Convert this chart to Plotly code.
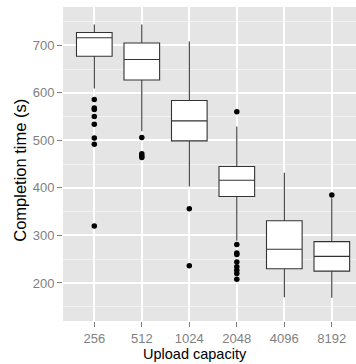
import plotly.graph_objects as go

categories = ["256", "512", "1024", "2048", "4096", "8192"]
q1 = [677, 627, 499, 382, 230, 225]
median = [716, 670, 541, 416, 271, 256]
q3 = [727, 705, 584, 445, 331, 287]
lower_whisker = [609, 519, 403, 289, 170, 169]
upper_whisker = [744, 744, 708, 529, 432, 378]

outlier_cat = (["256"] * 8 + ["512"] * 4 + ["1024"] * 2 + ["2048"] * 9 + ["8192"])
outlier_val = ([586, 568, 565, 550, 534, 505, 492, 320,
                506, 472, 467, 464,
                356, 236,
                560, 281, 263, 260, 244, 234, 227, 220, 208,
                385])

y_ticks = [200, 300, 400, 500, 600, 700]
x_title = "Upload capacity"
y_title = "Completion time (s)"

fig = go.Figure()
fig.add_trace(go.Box(
    x=categories, q1=q1, median=median, q3=q3,
    lowerfence=lower_whisker, upperfence=upper_whisker,
    fillcolor="white", line=dict(color="#333333", width=1.1),
    whiskerwidth=0, width=0.75, boxpoints=False, showlegend=False,
    hoverinfo="skip",
))
fig.add_trace(go.Scatter(
    x=outlier_cat, y=outlier_val, mode="markers",
    marker=dict(color="black", size=5.5), showlegend=False,
))

FONT = "Liberation Sans, Arial, sans-serif"
tickfont = dict(family=FONT, size=13, color="#7F7F7F")

fig.update_layout(
    width=356, height=364,
    margin=dict(l=63, r=0, t=7, b=43),
    paper_bgcolor="white", plot_bgcolor="#E5E5E5",
    xaxis=dict(
        type="category", categoryorder="array", categoryarray=categories,
        range=[-0.659, 5.509], showgrid=True, gridcolor="white", gridwidth=1.5,
        zeroline=False, showline=False,
        ticks="outside", ticklen=5, tickcolor="#7F7F7F", tickwidth=1,
        tickfont=tickfont,
    ),
    yaxis=dict(
        range=[120, 780.6], tickvals=y_ticks,
        showgrid=True, gridcolor="white", gridwidth=1.5,
        minor=dict(tick0=150, dtick=100, showgrid=True, gridcolor="#F2F2F2", gridwidth=1, ticklen=0),
        zeroline=False, showline=False,
        ticks="outside", ticklen=5, tickcolor="#7F7F7F", tickwidth=1,
        tickfont=tickfont,
    ),
    annotations=[
        dict(text=x_title, xref="paper", yref="paper", x=0.4505, y=-0.106,
             xanchor="center", yanchor="middle", showarrow=False,
             font=dict(family=FONT, size=14.5, color="black")),
        dict(text=y_title, xref="paper", yref="paper", x=-0.1495, y=0.479,
             xanchor="center", yanchor="middle", textangle=-90, showarrow=False,
             font=dict(family=FONT, size=16.5, color="black")),
    ],
)

fig.write_html("out.html")
